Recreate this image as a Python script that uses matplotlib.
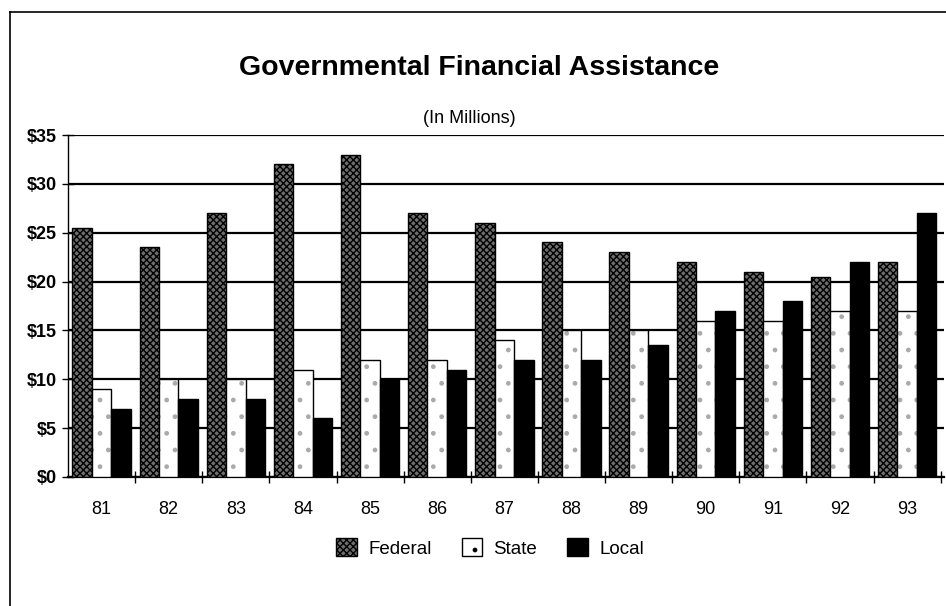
# Governmental Financial Assistance chart

import numpy as np
import matplotlib.pyplot as plt
from matplotlib.lines import Line2D
from matplotlib.patches import Patch

plt.rcParams['font.family'] = ['Liberation Sans', 'DejaVu Sans']

# Data (in millions)
years = ["81", "82", "83", "84", "85", "86", "87", "88", "89", "90", "91", "92", "93"]
federal = [25.5, 23.5, 27, 32, 33, 27, 26, 24, 23, 22, 21, 20.5, 22]
state = [9, 10, 10, 11, 12, 12, 14, 15, 15, 16, 16, 17, 17]
local = [7, 8, 8, 6, 10, 11, 12, 12, 13.5, 17, 18, 22, 27]
y_ticks = [0, 5, 10, 15, 20, 25, 30, 35]

fig = plt.figure(figsize=(9.46, 6.06), dpi=100)
ax = fig.add_axes([0.0719, 0.2129, 0.926, 0.5643])

x = np.arange(len(years))
w = 0.29

# Federal: gray checker pattern
ax.bar(x - w, federal, w, facecolor="#6e6e6e", edgecolor="black",
       hatch="xxxxx", linewidth=1.0, zorder=3)
# State: white with sparse dots
ax.bar(x, state, w, facecolor="white", edgecolor="#aaaaaa",
       hatch=".", linewidth=0.0, zorder=3)
ax.bar(x, state, w, facecolor="none", edgecolor="black",
       linewidth=1.0, zorder=3)
# Local: solid black
ax.bar(x + w, local, w, facecolor="black", edgecolor="black",
       linewidth=1.0, zorder=3)

ax.set_xlim(-0.5, 12.55)
ax.set_ylim(0, 35)

ax.set_yticks(y_ticks)
ax.set_yticklabels(["$" + str(v) for v in y_ticks])
ax.yaxis.grid(True, color="black", linewidth=1.6, zorder=0)

ax.set_xticks(x)
ax.set_xticklabels(years)
ax.set_xticks(x + 0.5, minor=True)
ax.tick_params(axis="x", which="major", length=0, pad=17, labelsize=13)
ax.tick_params(axis="x", which="minor", direction="inout", length=9, width=1)
ax.tick_params(axis="y", direction="inout", length=8, width=1, labelsize=13, pad=4)

for side in ["top", "right"]:
    ax.spines[side].set_visible(False)
ax.spines["left"].set_linewidth(1.0)
ax.spines["bottom"].set_linewidth(1.6)

for lbl in ax.get_yticklabels():
    lbl.set_fontweight("bold")

fig.text(0.507, 0.888, "Governmental Financial Assistance", ha="center",
         va="center", fontsize=20.5, fontweight="bold")
fig.text(0.496, 0.805, "(In Millions)", ha="center", va="center", fontsize=13)

handles = [
    Patch(facecolor="#6e6e6e", edgecolor="black", hatch="xxxxx", label="Federal"),
    Patch(facecolor="white", edgecolor="black", hatch=".", label="State"),
    Patch(facecolor="black", edgecolor="black", label="Local"),
]
fig.legend(handles=handles, loc="center", bbox_to_anchor=(0.518, 0.096),
           ncol=3, frameon=False, fontsize=13.5, handlelength=1.1,
           handleheight=1.1, columnspacing=1.6, handletextpad=0.6)

# Outer frame (left and top edges)
fig.add_artist(Line2D([0.011, 0.011], [0.0, 0.98], color="black", linewidth=1.2))
fig.add_artist(Line2D([0.011, 1.0], [0.98, 0.98], color="black", linewidth=1.2))

fig.savefig("out.png", dpi=100)
